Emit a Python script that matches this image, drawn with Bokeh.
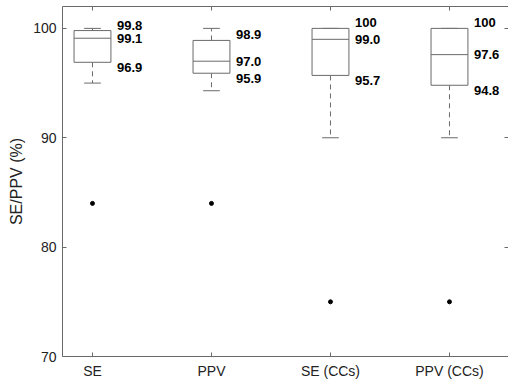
from bokeh.plotting import figure
from bokeh.models import ColumnDataSource, FixedTicker, LinearAxis, Range1d
from bokeh.core.properties import value
from bokeh.embed import file_html
from bokeh.resources import INLINE

categories = ["SE", "PPV", "SE (CCs)", "PPV (CCs)"]
q1 = [96.9, 95.9, 95.7, 94.8]
median = [99.1, 97.0, 99.0, 97.6]
q3 = [99.8, 98.9, 100.0, 100.0]
whisk_lo = [95.0, 94.3, 90.0, 90.0]
whisk_hi = [100.0, 100.0, 100.0, 100.0]
outliers = [84.0, 84.0, 75.0, 75.0]
label_hi = ["99.8", "98.9", "100", "100"]
label_mid = ["99.1", "97.0", "99.0", "97.6"]
label_lo = ["96.9", "95.9", "95.7", "94.8"]
y_ticks = [70, 80, 90, 100]

pos = [i + 1 for i in range(len(categories))]
hw = 0.155
cw = 0.07

FONT = "Liberation Sans"
AX = "#6a6a6a"

p = figure(width=508, height=383, output_backend="svg", toolbar_location=None,
           x_range=Range1d(0.748, 4.496), y_range=Range1d(70, 102.0),
           min_border_left=62, min_border_right=0, min_border_top=6, min_border_bottom=27)
p.outline_line_color = None
p.grid.visible = False
p.background_fill_color = "white"

src = ColumnDataSource(dict(
    x=pos,
    left=[x - hw for x in pos], right=[x + hw for x in pos],
    cl=[x - cw for x in pos], cr=[x + cw for x in pos],
    q1=q1, q3=q3, med=median, lo=whisk_lo, hi=whisk_hi, out=outliers,
    lh=label_hi, lm=label_mid, ll=label_lo,
))

# whiskers
p.segment(x0="x", y0="q3", x1="x", y1="hi", source=src, line_color=AX, line_width=1, line_dash="5 4")
p.segment(x0="x", y0="q1", x1="x", y1="lo", source=src, line_color=AX, line_width=1, line_dash="5 4")
# caps
p.segment(x0="cl", y0="hi", x1="cr", y1="hi", source=src, line_color=AX, line_width=1)
p.segment(x0="cl", y0="lo", x1="cr", y1="lo", source=src, line_color=AX, line_width=1)
# boxes
p.quad(left="left", right="right", bottom="q1", top="q3", source=src,
       fill_color="white", line_color=AX, line_width=1)
p.segment(x0="left", y0="med", x1="right", y1="med", source=src, line_color=AX, line_width=1)
# outliers
p.scatter(x="x", y="out", source=src, size=4, color="black")

# labels
common = dict(source=src, text_font=value(FONT), text_font_size="13px", text_font_style="bold",
              text_color="black", x_offset=6)
p.text(x="right", y="q3", text="lh", text_baseline="bottom", y_offset=-1, **common)
p.text(x="right", y="med", text="lm", text_baseline="middle", **common)
p.text(x="right", y="q1", text="ll", text_baseline="top", y_offset=1, **common)

# axes
xa = p.xaxis[0]
xa.ticker = FixedTicker(ticks=pos)
xa.major_label_overrides = {x: c for x, c in zip(pos, categories)}
xa.minor_tick_line_color = None
xa.major_tick_out = 0
xa.major_tick_in = 4
xa.major_label_standoff = 6

ya = p.yaxis[0]
ya.ticker = FixedTicker(ticks=y_ticks)
ya.minor_tick_line_color = None
ya.major_tick_out = 0
ya.major_tick_in = 4
ya.major_label_standoff = 6
ya.axis_label = "SE/PPV (%)"
ya.axis_label_standoff = 5

for ax in (xa, ya):
    ax.axis_line_color = AX
    ax.major_tick_line_color = AX
    ax.major_label_text_font = FONT
    ax.major_label_text_font_size = "14px"
    ax.major_label_text_color = "#222222"
    ax.axis_label_text_font = FONT
    ax.axis_label_text_font_size = "16px"
    ax.axis_label_text_font_style = "normal"
    ax.axis_label_text_color = "#222222"

top = LinearAxis(ticker=FixedTicker(ticks=pos), axis_line_color=AX, major_tick_line_color=AX,
                 major_tick_out=0, major_tick_in=4, minor_tick_line_color=None,
                 major_label_text_font_size="0px", major_label_standoff=0,
                 major_label_text_color=None)
p.add_layout(top, "above")
right = LinearAxis(ticker=FixedTicker(ticks=y_ticks), axis_line_color=None, major_tick_line_color=AX,
                   major_tick_out=0, major_tick_in=4, minor_tick_line_color=None,
                   major_label_text_font_size="0px", major_label_standoff=0,
                   major_label_text_color=None)
p.add_layout(right, "right")

open("out.html", "w").write(file_html(p, INLINE))
